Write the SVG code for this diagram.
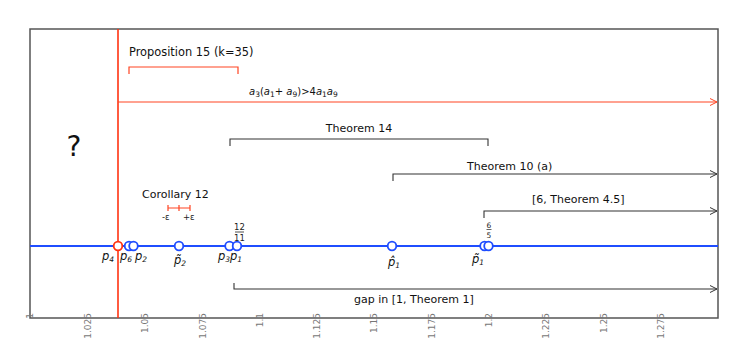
<svg xmlns="http://www.w3.org/2000/svg" width="748" height="349" viewBox="0 0 748 349">
<style>
.t{font-family:"DejaVu Sans","Liberation Sans",sans-serif;font-size:11px;fill:#111}
.tick{font-family:"DejaVu Sans",sans-serif;font-size:9px;fill:#777}
.lbl{font-family:"DejaVu Sans",sans-serif;font-size:11.5px;font-style:italic;fill:#111}
.sub{font-size:7.5px}
.frac{font-family:"DejaVu Sans",sans-serif;font-size:8.5px;fill:#222;text-anchor:middle}
.frame{fill:none;stroke:#555;stroke-width:1.5}
.red{fill:none;stroke:#ff4422;stroke-width:1.2}
.blk{fill:none;stroke:#333;stroke-width:1.1}
.bpt{fill:#fff;stroke:#1f4dff;stroke-width:1.8}
.rpt{fill:#fff;stroke:#ff3311;stroke-width:1.8}
</style>
<defs>
<marker id="ab" markerWidth="8" markerHeight="8" refX="7" refY="4" orient="auto" markerUnits="userSpaceOnUse">
<path d="M0,0.5 L7,4 L0,7.5" fill="none" stroke="#333" stroke-width="1"/>
</marker>
<marker id="ar" markerWidth="8" markerHeight="8" refX="7" refY="4" orient="auto" markerUnits="userSpaceOnUse">
<path d="M0,0.5 L7,4 L0,7.5" fill="none" stroke="#ff4422" stroke-width="1"/>
</marker>
</defs>
<rect width="748" height="349" fill="#fff"/>
<g id="frame">
<path class="frame" d="M30,29 H718 V318 H30 Z"/>
<g class="tick">
<text transform="translate(33,313) rotate(-90)" text-anchor="end">1</text>
<text transform="translate(91,313) rotate(-90)" text-anchor="end">1.025</text>
<text transform="translate(148,313) rotate(-90)" text-anchor="end">1.05</text>
<text transform="translate(206,313) rotate(-90)" text-anchor="end">1.075</text>
<text transform="translate(263,313) rotate(-90)" text-anchor="end">1.1</text>
<text transform="translate(320,313) rotate(-90)" text-anchor="end">1.125</text>
<text transform="translate(377,313) rotate(-90)" text-anchor="end">1.15</text>
<text transform="translate(435,313) rotate(-90)" text-anchor="end">1.175</text>
<text transform="translate(492,313) rotate(-90)" text-anchor="end">1.2</text>
<text transform="translate(549,313) rotate(-90)" text-anchor="end">1.225</text>
<text transform="translate(607,313) rotate(-90)" text-anchor="end">1.25</text>
<text transform="translate(664,313) rotate(-90)" text-anchor="end">1.275</text>
</g>
</g>
<g id="unknown"><text class="t" x="74" y="156" text-anchor="middle" style="font-size:28px">?</text></g>
<g id="connectors">
<line x1="30" y1="246" x2="718" y2="246" stroke="#1f4dff" stroke-width="2"/>
<line x1="118" y1="29" x2="118" y2="318" stroke="#ff3311" stroke-width="1.6"/>
<line class="red" x1="118" y1="102" x2="717" y2="102" marker-end="url(#ar)"/>
<path class="red" d="M129,74 V67 H238 V74"/>
<path class="red" d="M168,208 H190 M168,205 V211 M179,205 V211 M190,205 V211"/>
<path class="blk" d="M230,146 V139 H488 V146"/>
<path class="blk" d="M393,181 V174 H717" marker-end="url(#ab)"/>
<path class="blk" d="M484,218 V211 H717" marker-end="url(#ab)"/>
<path class="blk" d="M234,283 V289 H717" marker-end="url(#ab)"/>
</g>
<g id="prop15"><text class="t" x="129" y="56" style="font-size:11.4px">Proposition 15 (k=35)</text></g>
<g id="ineq"><text x="249" y="95" style="font-family:'DejaVu Sans',sans-serif;font-size:10px;fill:#111"><tspan font-style="italic">a</tspan><tspan class="sub" dy="2">3</tspan><tspan dy="-2">(</tspan><tspan font-style="italic">a</tspan><tspan class="sub" dy="2">1</tspan><tspan dy="-2">+ </tspan><tspan font-style="italic">a</tspan><tspan class="sub" dy="2">9</tspan><tspan dy="-2">)&gt;4</tspan><tspan font-style="italic">a</tspan><tspan class="sub" dy="2">1</tspan><tspan dy="-2" font-style="italic">a</tspan><tspan class="sub" dy="2">9</tspan></text></g>
<g id="thm14"><text class="t" x="359" y="132" text-anchor="middle">Theorem 14</text></g>
<g id="thm10a"><text class="t" x="467" y="170">Theorem 10 (a)</text></g>
<g id="thm45"><text class="t" x="532" y="203">[6, Theorem 4.5]</text></g>
<g id="gap"><text class="t" x="354" y="303">gap in [1, Theorem 1]</text></g>
<g id="cor12">
<text class="t" x="142" y="198">Corollary 12</text>
<text x="162" y="220" style="font-family:'DejaVu Sans',sans-serif;font-size:8.5px;fill:#222">-ε</text>
<text x="183" y="220" style="font-family:'DejaVu Sans',sans-serif;font-size:8.5px;fill:#222">+ε</text>
</g>
<g id="p4"><circle class="rpt" cx="118" cy="246" r="4.3"/><text class="lbl" x="102" y="260">p<tspan class="sub" dy="2">4</tspan></text></g>
<g id="p6"><circle class="bpt" cx="129" cy="246" r="4.3"/><text class="lbl" x="120" y="260">p<tspan class="sub" dy="2">6</tspan></text></g>
<g id="p2"><circle class="bpt" cx="133.5" cy="246" r="4.3"/><text class="lbl" x="135" y="260">p<tspan class="sub" dy="2">2</tspan></text></g>
<g id="p2t"><circle class="bpt" cx="179" cy="246" r="4.3"/><text class="lbl" x="174" y="264">p̃<tspan class="sub" dy="2">2</tspan></text></g>
<g id="p3"><circle class="bpt" cx="229.5" cy="246" r="4.3"/><text class="lbl" x="218" y="260">p<tspan class="sub" dy="2">3</tspan></text></g>
<g id="p1"><circle class="bpt" cx="237" cy="246" r="4.3"/><text class="lbl" x="230" y="260">p<tspan class="sub" dy="2">1</tspan></text>
<text class="frac" x="239.5" y="230">12</text><line x1="235" y1="232" x2="244" y2="232" stroke="#222" stroke-width="0.8"/><text class="frac" x="239.5" y="241">11</text></g>
<g id="p1h"><circle class="bpt" cx="392" cy="246" r="4.3"/><text class="lbl" x="388" y="266">p̂<tspan class="sub" dy="2">1</tspan></text></g>
<g id="p1t"><circle class="bpt" cx="484.5" cy="246" r="4.3"/><circle class="bpt" cx="488.5" cy="246" r="4.3"/><text class="lbl" x="472" y="263">p̃<tspan class="sub" dy="2">1</tspan></text>
<text class="frac" x="489" y="228" style="font-size:7.5px">6</text><line x1="486.5" y1="229.5" x2="491.5" y2="229.5" stroke="#222" stroke-width="0.7"/><text class="frac" x="489" y="238" style="font-size:7.5px">5</text></g>
</svg>
